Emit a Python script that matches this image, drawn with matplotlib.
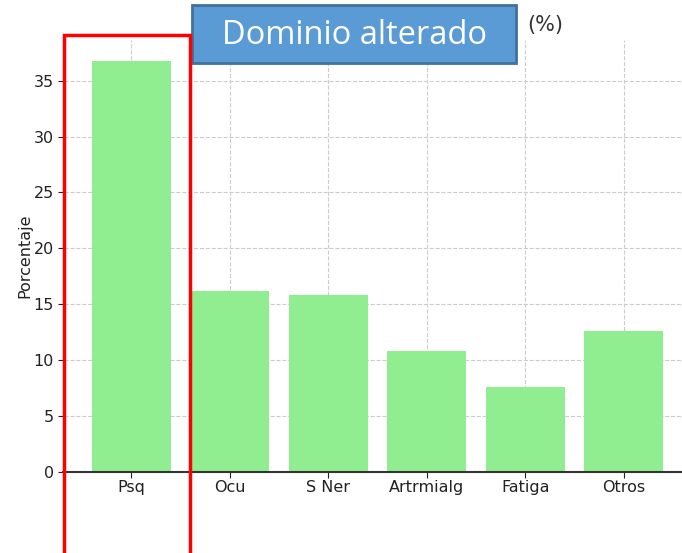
import matplotlib.pyplot as plt
from matplotlib.patches import Rectangle

# datos
categorias = ['Psq', 'Ocu', 'S Ner', 'Artrmialg', 'Fatiga', 'Otros']
porcentajes = [36.8, 16.2, 15.85, 10.8, 7.6, 12.6]

fig = plt.figure(figsize=(6.82, 5.53), dpi=100)
ax = fig.add_axes([63.5 / 682, 81 / 553, 628 / 682, 432 / 553])

ax.bar(categorias, porcentajes, color='lightgreen', width=0.8, zorder=2)
ax.set_ylabel('Porcentaje', fontsize=11.5, color='#222222', labelpad=1)
ax.grid(True, linestyle='--', color='#cccccc', linewidth=0.8, zorder=0)
ax.tick_params(axis='both', labelsize=11.5, colors='#222222', length=4, pad=3)
ax.tick_params(axis='x', pad=2)
ax.set_yticks([0, 5, 10, 15, 20, 25, 30, 35])
for s in ['top', 'right']:
    ax.spines[s].set_visible(False)
ax.spines['bottom'].set_linewidth(1.5)
ax.spines['bottom'].set_color('#333333')
ax.spines['left'].set_visible(False)

# titulo parcialmente tapado
fig.text(545 / 682, 1 - 25 / 553, '(%)', fontsize=15, color='#333333',
         ha='center', va='center')

# recuadro azul
fig.patches.append(Rectangle((192 / 682, 1 - 63 / 553), 324 / 682, 58 / 553,
                             transform=fig.transFigure, facecolor='#5B9BD5',
                             edgecolor='#41719C', linewidth=2, zorder=5))
fig.text(354 / 682, 1 - 36 / 553, 'Dominio alterado', fontsize=23.5, color='white',
         family='Open Sans', ha='center', va='center', zorder=6)

# recuadro rojo
fig.patches.append(Rectangle((64 / 682, -0.05), 126 / 682, 1.05 - 35 / 553,
                             transform=fig.transFigure, facecolor='none',
                             edgecolor='red', linewidth=2.5, zorder=7))

fig.savefig('out.png', dpi=100)
